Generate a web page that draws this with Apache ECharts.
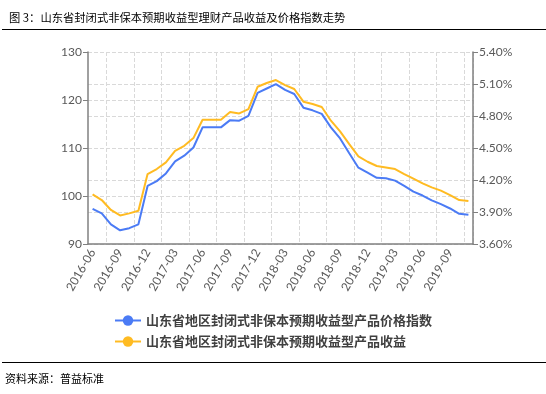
<!DOCTYPE html>
<html>
<head>
<meta charset="utf-8">
<script src="https://cdn.jsdelivr.net/npm/echarts@6/dist/echarts.min.js"></script>
<style>html,body{margin:0;padding:0;background:#fff;}#c{width:546px;height:394px;}</style>
</head>
<body>
<div id="c"></div>
<script>
var categories = ['2016-06','2016-07','2016-08','2016-09','2016-10','2016-11','2016-12',
  '2017-01','2017-02','2017-03','2017-04','2017-05','2017-06','2017-07','2017-08','2017-09','2017-10','2017-11','2017-12',
  '2018-01','2018-02','2018-03','2018-04','2018-05','2018-06','2018-07','2018-08','2018-09','2018-10','2018-11','2018-12',
  '2019-01','2019-02','2019-03','2019-04','2019-05','2019-06','2019-07','2019-08','2019-09','2019-10','2019-11'];
var priceIndex = [97.3,96.4,94.1,92.85,93.3,94.1,102.1,103.1,104.7,107.2,108.4,110.1,114.3,114.3,114.3,115.8,115.7,116.7,121.5,
  122.4,123.3,122.1,121.25,118.4,117.85,117.1,114.3,112.0,108.9,105.9,104.85,103.8,103.7,103.2,102.1,100.9,100.1,99.1,98.3,97.4,96.3,96.1];
var yieldPct = [4.065,4.012,3.919,3.868,3.887,3.912,4.256,4.303,4.365,4.474,4.521,4.593,4.765,4.765,4.765,4.837,4.824,4.865,5.074,
  5.109,5.137,5.09,5.053,4.934,4.912,4.884,4.756,4.656,4.537,4.421,4.371,4.331,4.318,4.303,4.256,4.212,4.168,4.131,4.10,4.059,4.012,4.003];
var seriesNames = ['山东省地区封闭式非保本预期收益型产品价格指数','山东省地区封闭式非保本预期收益型产品收益'];
var titleText = '图 3：山东省封闭式非保本预期收益型理财产品收益及价格指数走势';
var sourceText = '资料来源：普益标准';

var chart = echarts.init(document.getElementById('c'), null, {renderer:'canvas'});
var axisColor = '#808080', labelColor = '#595959', gridColor = '#d9d9d9';
var labelFont = 'Lato';
chart.setOption({
  animation:false,
  backgroundColor:'#fff',
  title:{text:titleText,left:4,top:7,textStyle:{fontFamily:'Noto Sans CJK SC',fontSize:11.3,fontWeight:'normal',color:'#000'}},
  graphic:[
    {type:'line',shape:{x1:2,y1:29.5,x2:546,y2:29.5},style:{stroke:'#000',lineWidth:1}},
    {type:'line',shape:{x1:2,y1:362.5,x2:546,y2:362.5},style:{stroke:'#000',lineWidth:1}},
    {type:'text',left:5,top:373,style:{text:sourceText,fontFamily:'Noto Sans CJK SC',fontSize:11,fill:'#000'}}
  ],
  legend:{orient:'vertical',left:109,top:309,itemWidth:26,itemHeight:13,itemGap:8,
    textStyle:{fontFamily:'Noto Sans CJK SC',fontSize:13,fontWeight:'bold',color:'#404040'},
    data:seriesNames},
  grid:{left:88,right:73,top:52,bottom:150,containLabel:false},
  xAxis:{type:'category',data:categories,boundaryGap:true,
    axisLine:{lineStyle:{color:axisColor,width:1.5}},
    axisTick:{alignWithLabel:true,interval:2,length:5,lineStyle:{color:axisColor}},
    axisLabel:{interval:2,rotate:60,fontFamily:labelFont,fontSize:12,color:labelColor,margin:6},
    splitLine:{show:true,interval:function(i){return i%3===2;},lineStyle:{type:'dashed',color:gridColor}}},
  yAxis:[
    {type:'value',min:90,max:130,interval:10,position:'left',
     axisLine:{show:true,lineStyle:{color:axisColor,width:1.5}},
     axisTick:{show:true,length:5,lineStyle:{color:axisColor}},
     axisLabel:{fontFamily:labelFont,fontSize:12,color:labelColor,margin:6},
     splitLine:{show:true,lineStyle:{type:'dashed',color:gridColor}}},
    {type:'value',min:3.6,max:5.4,interval:0.3,position:'right',
     axisLine:{show:true,lineStyle:{color:axisColor,width:1.5}},
     axisTick:{show:true,length:5,lineStyle:{color:axisColor}},
     axisLabel:{fontFamily:labelFont,fontSize:12,color:labelColor,margin:6,formatter:function(v){return v.toFixed(2)+'%';}},
     splitLine:{show:true,lineStyle:{type:'dashed',color:gridColor}}}
  ],
  series:[
    {name:seriesNames[0],type:'line',yAxisIndex:0,data:priceIndex,symbol:'circle',symbolSize:8,showSymbol:false,
     itemStyle:{color:'#4B7BF5'},lineStyle:{color:'#4B7BF5',width:2}},
    {name:seriesNames[1],type:'line',yAxisIndex:1,data:yieldPct,symbol:'circle',symbolSize:8,showSymbol:false,
     itemStyle:{color:'#FFBB22'},lineStyle:{color:'#FFBB22',width:2}}
  ]
});
</script>
</body>
</html>
